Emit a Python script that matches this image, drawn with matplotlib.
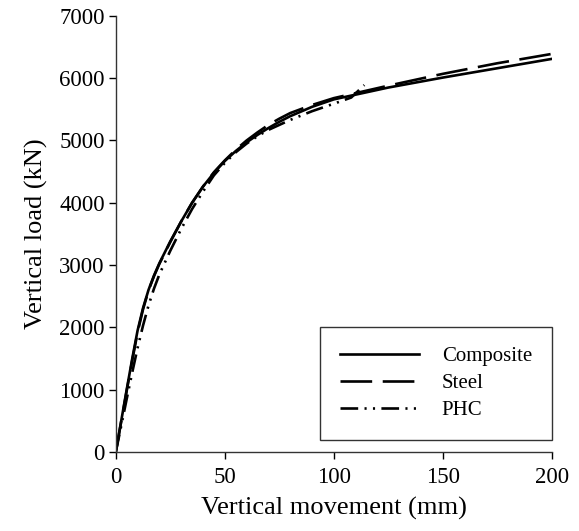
import matplotlib
matplotlib.use("Agg")
import matplotlib.pyplot as plt

plt.rcParams['font.family'] = ['Liberation Serif', 'DejaVu Serif']

# load-settlement curves
composite_x = [0, 2.5, 5, 7.5, 10, 12.5, 15, 17.5, 20, 25, 30, 35, 40, 45, 50, 55, 60, 65, 70, 75, 80,
               90, 100, 125, 150, 175, 200]
composite_y = [0, 500, 1000, 1490, 1950, 2310, 2600, 2830, 3030, 3380, 3700, 4000, 4260, 4480, 4670,
               4830, 4970, 5090, 5200, 5300, 5390, 5540, 5660, 5850, 6010, 6160, 6310]

steel_x = [0, 2.5, 5, 7.5, 10, 12.5, 15, 17.5, 20, 25, 30, 35, 40, 45, 50, 55, 60, 65, 70, 75, 80,
           90, 100, 125, 150, 175, 200]
steel_y = [0, 490, 980, 1460, 1920, 2290, 2590, 2820, 3020, 3370, 3700, 4000, 4260, 4490, 4680,
           4850, 5000, 5130, 5250, 5350, 5440, 5570, 5680, 5880, 6070, 6240, 6390]

phc_x = [0, 2.5, 5, 7.5, 10, 12.5, 15, 17.5, 20, 25, 30, 35, 40, 45, 50, 55, 60, 65, 70, 80,
         90, 100, 108, 114]
phc_y = [0, 420, 850, 1270, 1670, 2030, 2350, 2620, 2850, 3230, 3580, 3900, 4180, 4440, 4640,
         4810, 4950, 5070, 5170, 5330, 5470, 5590, 5690, 5890]

xticks = [0, 50, 100, 150, 200]
yticks = [0, 1000, 2000, 3000, 4000, 5000, 6000, 7000]

fig = plt.figure(figsize=(5.79, 5.31), dpi=100)
ax = fig.add_axes([0.200, 0.149, 0.753, 0.821])

ax.plot(composite_x, composite_y, color='black', lw=1.9, label='Composite')
ax.plot(steel_x, steel_y, color='black', lw=1.9, dashes=(12, 4), dash_capstyle='butt', label='Steel')
ax.plot(phc_x, phc_y, color='black', lw=1.9, dashes=(6.7, 2.4, 0.8, 2.4, 0.8, 2.4),
        dash_capstyle='butt', label='PHC')

ax.set_xlim(0, 200)
ax.set_ylim(0, 7000)
ax.set_xticks(xticks)
ax.set_yticks(yticks)
ax.tick_params(direction='out', length=5, width=1, labelsize=16.5, colors='black')
ax.tick_params(axis='x', pad=6)
ax.tick_params(axis='y', pad=3)
for s in ['top', 'right']:
    ax.spines[s].set_visible(False)
for s in ['left', 'bottom']:
    ax.spines[s].set_linewidth(1)
    ax.spines[s].set_color('#333333')

ax.set_xlabel('Vertical movement (mm)', fontsize=19, labelpad=6)
ax.set_ylabel('Vertical load (kN)', fontsize=19, labelpad=8)

leg = ax.legend(loc='lower right', bbox_to_anchor=(1.0, 0.0275), fontsize=15,
                handlelength=3.8, handletextpad=1.1, borderpad=0.95, labelspacing=0.35,
                fancybox=False, frameon=True, borderaxespad=0)
leg.get_frame().set_edgecolor('black')
leg.get_frame().set_linewidth(1)

fig.savefig('out.png', dpi=100)
